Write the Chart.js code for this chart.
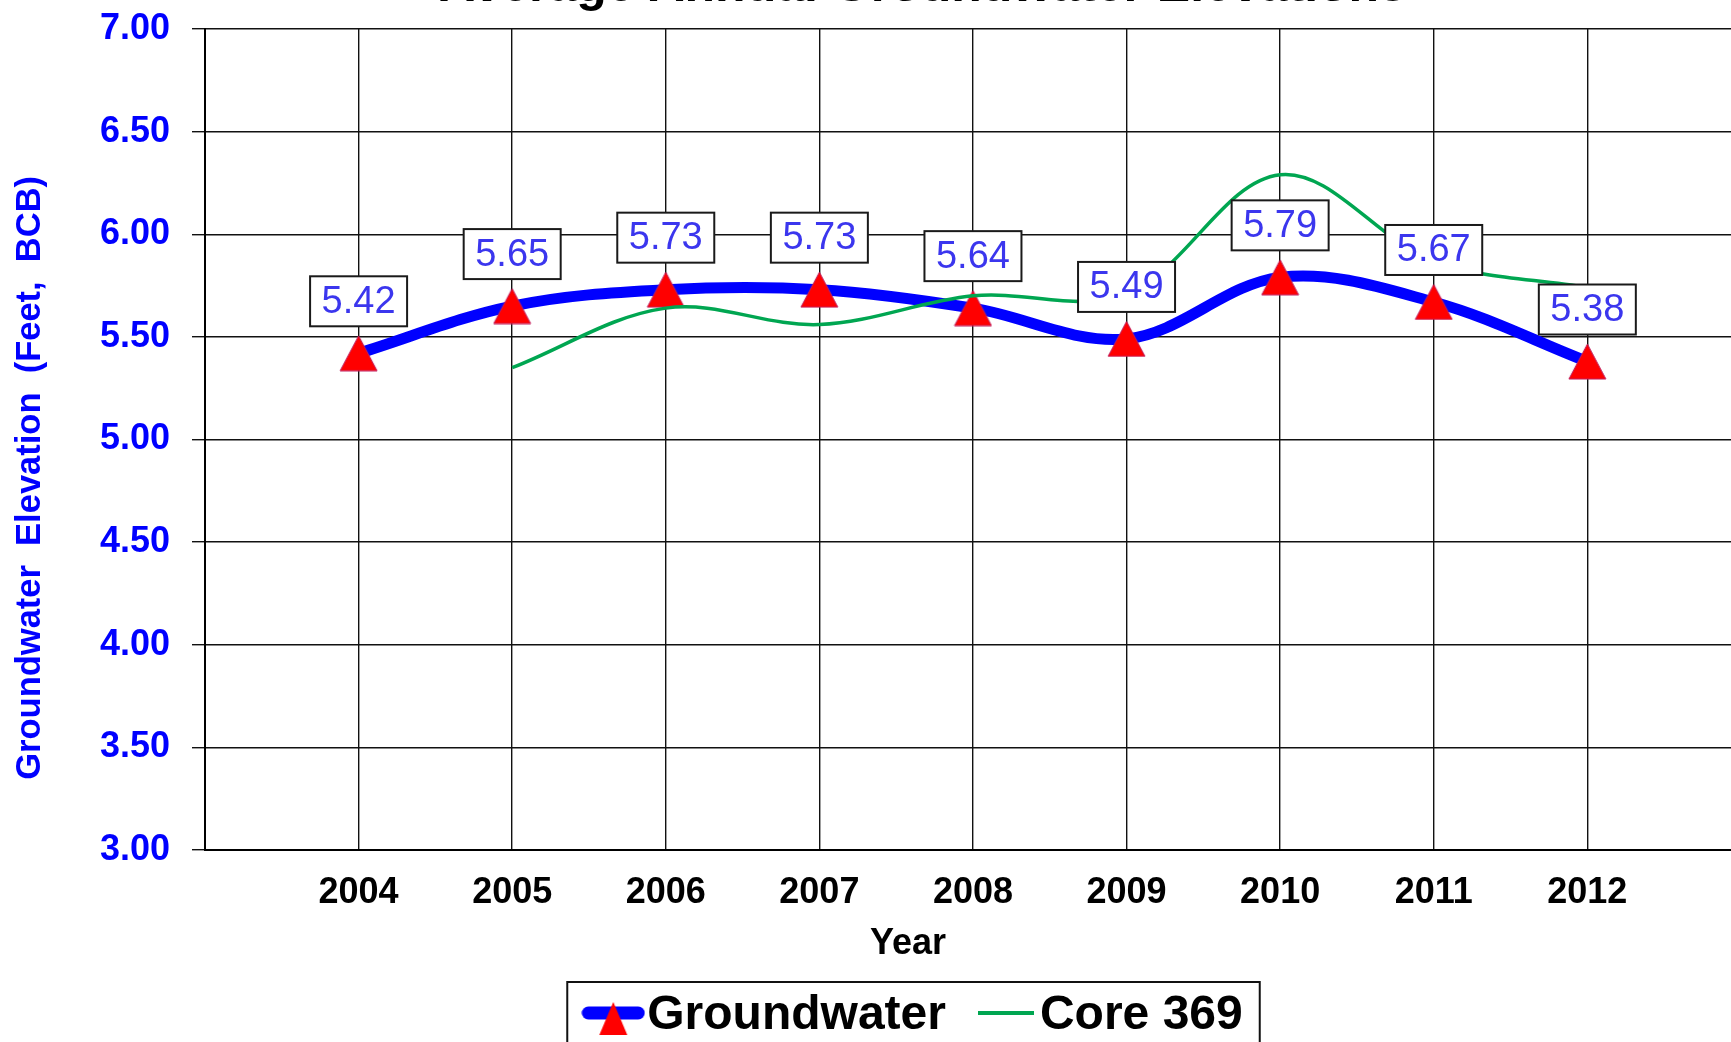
<!DOCTYPE html>
<html><head><meta charset="utf-8">
<script src="https://cdn.jsdelivr.net/npm/chart.js@4.4.1/dist/chart.umd.min.js"></script>
<style>
html,body{margin:0;padding:0;background:#fff;overflow:hidden;width:1731px;height:1042px;}
#wrap{position:absolute;left:0;top:-50px;width:1846px;height:1100px;}
</style></head><body>
<div id="wrap"><canvas id="c" width="1846" height="1100"></canvas></div>
<script>
const chartTitle = 'Average Annual Groundwater Elevations';
const xTitle = 'Year';
const yTitle = 'Groundwater  Elevation  (Feet,  BCB)';
const years = [2004, 2005, 2006, 2007, 2008, 2009, 2010, 2011, 2012];
const groundwater = [5.42, 5.65, 5.73, 5.73, 5.64, 5.49, 5.79, 5.67, 5.38];
const core369 = [null, 5.35, 5.64, 5.56, 5.70, 5.71, 6.29, 5.87, 5.74];
const seriesNames = ['Groundwater', 'Core 369'];
const yMin = 3, yMax = 7, yStep = 0.5;
const xMin = 2003, xMax = 2013.58;

const FAM = '"Liberation Sans", Arial, sans-serif';
Chart.defaults.font.family = FAM;
const BLUE = '#0000ff', GREEN = '#00a651', RED = '#ff0000';

function toPoints(vals) {
  const out = [];
  vals.forEach((v, i) => { if (v !== null) out.push({x: years[i], y: v}); });
  return out;
}

function triangleImg(w, h) {
  const c = document.createElement('canvas'); c.width = w; c.height = h;
  const g = c.getContext('2d');
  g.beginPath(); g.moveTo(w / 2, 1); g.lineTo(w - 1, h - 1); g.lineTo(1, h - 1); g.closePath();
  g.fillStyle = RED; g.fill();
  g.lineWidth = 1; g.strokeStyle = '#c02060'; g.stroke();
  return c;
}
const pointTri = triangleImg(39, 37);

function legendIconGW() {
  const c = document.createElement('canvas'); c.width = 64; c.height = 40;
  const g = c.getContext('2d');
  g.strokeStyle = BLUE; g.lineWidth = 13; g.lineCap = 'round';
  g.beginPath(); g.moveTo(7, 17); g.lineTo(57, 17); g.stroke();
  g.beginPath(); g.moveTo(32, 6); g.lineTo(46, 39); g.lineTo(18, 39); g.closePath();
  g.fillStyle = RED; g.fill();
  return c;
}
function legendIconCore() {
  const c = document.createElement('canvas'); c.width = 56; c.height = 14;
  const g = c.getContext('2d');
  g.strokeStyle = GREEN; g.lineWidth = 4;
  g.beginPath(); g.moveTo(0, 4); g.lineTo(56, 4); g.stroke();
  return c;
}
const iconGW = legendIconGW(), iconCore = legendIconCore();

const valueLabels = {
  id: 'valueLabels',
  afterDatasetsDraw(chart) {
    const idx = 1;
    const meta = chart.getDatasetMeta(idx);
    const ds = chart.data.datasets[idx];
    const ctx = chart.ctx;
    ctx.save();
    ctx.font = '38px ' + FAM;
    ctx.textAlign = 'center'; ctx.textBaseline = 'middle';
    meta.data.forEach((pt, i) => {
      const txt = ds.data[i].y.toFixed(2);
      const bw = 97, bh = 50, gap = 27;
      const x = pt.x - bw / 2, y = pt.y - gap - bh;
      ctx.fillStyle = '#fff'; ctx.fillRect(x, y, bw, bh);
      ctx.lineWidth = 2; ctx.strokeStyle = '#1a1a1a'; ctx.strokeRect(x, y, bw, bh);
      ctx.fillStyle = '#3b36ee';
      ctx.fillText(txt, pt.x, y + bh / 2 + 1);
    });
    ctx.restore();
  }
};

const legendBorder = {
  id: 'legendBorder',
  afterDraw(chart) {
    const lg = chart.legend; const hb = lg && lg.legendHitBoxes;
    if (!hb || !hb.length) return;
    const first = hb[0], last = hb[hb.length - 1];
    const ctx = chart.ctx;
    ctx.save(); ctx.lineWidth = 2; ctx.strokeStyle = '#111';
    const l = first.left - 36, r = last.left + last.width + 17;
    ctx.strokeRect(l, lg.top, r - l, lg.bottom - lg.top + 40);
    ctx.restore();
  }
};

new Chart(document.getElementById('c'), {
  type: 'line',
  data: {
    datasets: [
      { label: seriesNames[1], data: toPoints(core369), borderColor: GREEN, borderWidth: 3.5,
        pointRadius: 0, tension: 0.35, fill: false },
      { label: seriesNames[0], data: toPoints(groundwater), borderColor: BLUE, borderWidth: 11,
        borderCapStyle: 'round', borderJoinStyle: 'round',
        pointStyle: pointTri, pointRadius: 5, tension: 0.35, fill: false }
    ]
  },
  options: {
    responsive: false, animation: false, devicePixelRatio: 1,
    layout: { padding: 0 },
    scales: {
      x: {
        type: 'linear', min: xMin, max: xMax,
        afterFit(s) { s.height = 72.4; s.paddingRight = 0; },
        grid: { color: '#111', lineWidth: 1.4, drawTicks: false },
        border: { color: '#000', width: 2 },
        ticks: { stepSize: 1, autoSkip: false, maxRotation: 0, padding: 21,
          color: '#000', font: { size: 36, weight: 'bold' },
          callback: (v) => years.includes(v) ? String(v) : '' },
        title: { display: false }
      },
      y: {
        min: yMin, max: yMax,
        afterFit(s) { s.width = 205; },
        grid: { color: '#111', lineWidth: 1.4, tickLength: 13 },
        border: { color: '#000', width: 2 },
        ticks: { stepSize: yStep, padding: 22, color: BLUE, font: { size: 36, weight: 'bold' },
          callback: (v) => Number(v).toFixed(2) },
        title: { display: true, text: yTitle + '        ', color: BLUE,
          font: { size: 34.5, weight: 'bold' }, padding: { top: 10, bottom: 0 } }
      }
    },
    plugins: {
      tooltip: { enabled: false },
      title: { display: true, text: chartTitle, color: '#000',
        font: { size: 50, weight: 'bold' }, padding: { top: 7, bottom: 12 } },
      subtitle: { display: true, position: 'bottom', weight: 500, text: xTitle + '   ', color: '#000',
        font: { size: 36, weight: 'bold' }, padding: { top: 0, bottom: 16.4 } },
      legend: {
        display: true, position: 'bottom',
        labels: {
          usePointStyle: true, pointStyleWidth: 20, padding: 10, color: '#000',
          font: { size: 48, weight: 'bold' },
          generateLabels: () => [
            { text: seriesNames[0] + '   ', pointStyle: iconGW, fillStyle: BLUE, strokeStyle: BLUE, lineWidth: 0, hidden: false, datasetIndex: 1 },
            { text: seriesNames[1], pointStyle: iconCore, fillStyle: GREEN, strokeStyle: GREEN, lineWidth: 0, hidden: false, datasetIndex: 0 }
          ]
        }
      }
    }
  },
  plugins: [valueLabels, legendBorder]
});
</script>
</body></html>
